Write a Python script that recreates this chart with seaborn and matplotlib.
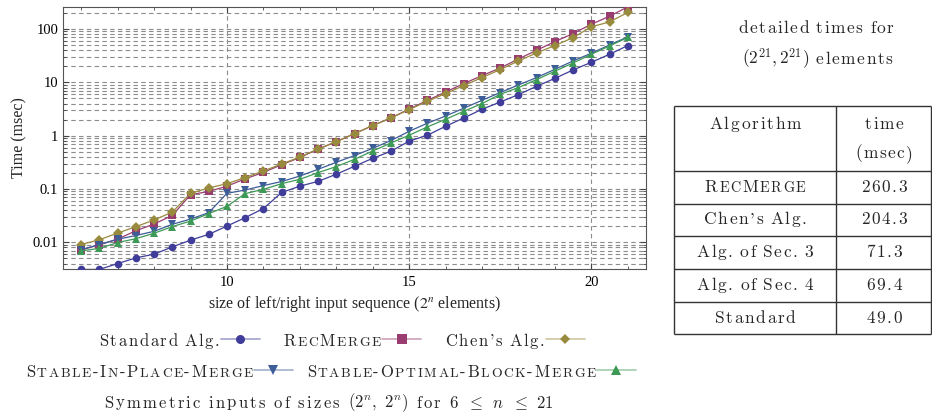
import re
import numpy as np
import pandas as pd
import seaborn as sns
import matplotlib
matplotlib.use("Agg")
import matplotlib.pyplot as plt
from matplotlib.lines import Line2D
from matplotlib.ticker import LogLocator, MultipleLocator, NullFormatter, FuncFormatter
from matplotlib.offsetbox import TextArea, DrawingArea, HPacker, AnchoredOffsetbox

# exponent n, inputs of size (2^n, 2^n)
n_exp = np.arange(6, 21.5, 0.5)

# times in msec
standard = [0.0031, 0.0031, 0.0040, 0.0051, 0.0060, 0.0082, 0.0110, 0.0141, 0.0202, 0.029,
            0.043, 0.086, 0.113, 0.139, 0.189, 0.267, 0.377, 0.51, 0.79, 1.02,
            1.50, 2.15, 3.13, 4.28, 5.9, 8.45, 11.9, 17.1, 23.8, 33.6, 49.0]
rec_merge = [0.0072, 0.0090, 0.0115, 0.0165, 0.022, 0.032, 0.078, 0.090, 0.113, 0.155,
             0.205, 0.285, 0.39, 0.56, 0.77, 1.09, 1.55, 2.15, 3.15, 4.6,
             6.6, 9.5, 13.4, 18.6, 27.5, 40.0, 58.2, 82.4, 123.0, 174.0, 260.3]
chen = [0.0091, 0.0112, 0.0149, 0.0197, 0.0262, 0.037, 0.083, 0.1045, 0.126, 0.164,
        0.218, 0.294, 0.398, 0.562, 0.774, 1.09, 1.55, 2.15, 3.09, 4.42,
        6.17, 8.7, 12.3, 17.4, 25.2, 35.7, 49.0, 69.2, 110.0, 136.0, 204.3]
sipm = [0.0073, 0.0091, 0.0114, 0.0134, 0.0161, 0.0218, 0.0273, 0.036, 0.083, 0.0957,
        0.116, 0.138, 0.175, 0.234, 0.317, 0.424, 0.58, 0.81, 1.21, 1.71,
        2.34, 3.27, 4.61, 6.44, 8.94, 12.3, 17.6, 25.2, 35.2, 50.4, 71.3]
sobm = [0.0069, 0.0077, 0.0099, 0.0117, 0.0148, 0.0197, 0.0251, 0.0345, 0.0473, 0.082,
        0.0986, 0.126, 0.152, 0.203, 0.263, 0.36, 0.516, 0.73, 1.02, 1.46,
        2.03, 2.87, 4.0, 5.98, 7.98, 11.3, 16.2, 23.1, 33.6, 48.2, 69.4]

series_names = ["Standard Alg.", "RecMerge", "Chen's Alg.",
                "Stable-In-Place-Merge", "Stable-Optimal-Block-Merge"]
series_colors = ["#3f3d99", "#993d71", "#998b3d", "#3d5d99", "#3d9956"]
series_markers = ["o", "s", "D", "v", "^"]
series_caps = [False, True, False, True, True]

table_algs = ["RecMerge", "Chen's Alg.", "Alg. of Sec. 3", "Alg. of Sec. 4", "Standard"]
table_times = [260.3, 204.3, 71.3, 69.4, 49.0]
table_caps = [True, False, False, False, False]

W, H = 932, 416
CM = ["cmr10", "DejaVu Serif"]

sns.set_style("ticks")
plt.rcParams["font.family"] = ["Liberation Serif", "DejaVu Serif"]
plt.rcParams["mathtext.fontset"] = "cm"


def cm_line(text, size, caps=False, track=0.9, word=0.42):
    '''letter spaced computer modern text, lowercase -> small caps if caps'''
    words = []
    for tok in re.findall(r"\$[^$]*\$|[^\s$]+", text):
        if tok.startswith("$"):
            words.append(TextArea(tok, textprops=dict(fontsize=size, math_fontfamily="cm")))
            continue
        chars = []
        for ch in tok:
            if caps and ch.islower():
                chars.append(TextArea(ch.upper(), textprops=dict(family=CM, fontsize=size * 0.82)))
            else:
                chars.append(TextArea(ch, textprops=dict(family=CM, fontsize=size)))
        words.append(HPacker(children=chars, align="baseline", pad=0, sep=track))
    return HPacker(children=words, align="baseline", pad=0, sep=size * word)


def legend_handle(color, marker):
    da = DrawingArea(28, 9, 0, 1)
    da.add_artist(Line2D([0, 28], [4.5, 4.5], color=color, alpha=0.45, lw=1.3))
    da.add_artist(Line2D([14], [4.5], marker=marker, color=color, ms=6.5 if marker != "D" else 5.5, mew=0))
    return da


def place(parent, box, x, y, transform):
    ab = AnchoredOffsetbox(loc="center", child=box, bbox_to_anchor=(x, y),
                           bbox_transform=transform, frameon=False, pad=0, borderpad=0)
    parent.add_artist(ab)


df = pd.DataFrame({"n": n_exp, series_names[0]: standard, series_names[1]: rec_merge,
                   series_names[2]: chen, series_names[3]: sipm, series_names[4]: sobm})
long_df = df.melt(id_vars="n", var_name="alg", value_name="time")

fig = plt.figure(figsize=(W / 100, H / 100), dpi=100)
ax = fig.add_axes([63 / W, 1 - 269 / H, 583 / W, 262 / H])

sns.lineplot(data=long_df, x="n", y="time", hue="alg", style="alg",
             hue_order=series_names, style_order=series_names,
             palette=dict(zip(series_names, series_colors)),
             markers=dict(zip(series_names, series_markers)), dashes=False,
             markersize=5.5, markeredgewidth=0, linewidth=0.9, legend=False, ax=ax, zorder=3)
for line in ax.lines:
    if line.get_marker() == "D":
        line.set_markersize(4.8)

ax.set_yscale("log")
ax.set_ylim(0.00316, 259)
ax.set_xlim(5.5, 21.5)
ax.yaxis.set_major_locator(LogLocator(base=10, numticks=12))
ax.yaxis.set_minor_locator(LogLocator(base=10, subs=np.arange(2, 10), numticks=12))
ax.yaxis.set_major_formatter(FuncFormatter(lambda v, p: f"{v:g}"))
ax.yaxis.set_minor_formatter(NullFormatter())
ax.set_xticks([10, 15, 20])
ax.xaxis.set_minor_locator(MultipleLocator(1))

ax.tick_params(which="both", direction="in", top=True, right=True, colors="#444444", labelcolor="black", labelsize=10.5)
ax.tick_params(which="major", length=4, width=0.8)
ax.tick_params(which="minor", length=2, width=0.6)
ax.tick_params(axis="x", pad=5)
for sp in ax.spines.values():
    sp.set_color("#555555")
    sp.set_linewidth(0.8)

grid_kw = dict(linestyle=(0, (4, 3)), color="#8c8c8c", linewidth=0.8)
ax.grid(True, axis="y", which="both", **grid_kw)
ax.grid(True, axis="x", which="major", **grid_kw)
ax.set_axisbelow(True)

ax.set_ylabel("Time (msec)", fontsize=11.5, labelpad=4)
ax.set_xlabel(r"size of left/right input sequence ($2^n$ elements)", fontsize=11.5, labelpad=4,
              math_fontfamily="stix")

# legend rows below the plot
entries = []
for name, col, mk, caps in zip(series_names, series_colors, series_markers, series_caps):
    entries.append(HPacker(children=[cm_line(name, 12, caps, track=1.2), legend_handle(col, mk)],
                           align="baseline", pad=0, sep=1))
row1 = HPacker(children=entries[:3], align="baseline", pad=0, sep=17)
row2 = HPacker(children=entries[3:], align="baseline", pad=0, sep=10)
caption = cm_line(r"Symmetric inputs of sizes $(2^n,\ 2^n)$ for $6$ $\leq$ $n$ $\leq$ $21$", 12,
                  track=1.6, word=0.5)
place(fig, row1, 342 / W, 1 - 341 / H, fig.transFigure)
place(fig, row2, 331 / W, 1 - 372 / H, fig.transFigure)
place(fig, caption, 329 / W, 1 - 403 / H, fig.transFigure)

# table on the right, drawn in pixel coordinates
tax = fig.add_axes([0, 0, 1, 1])
tax.set_xlim(0, W)
tax.set_ylim(H, 0)
tax.axis("off")

row_edges = [106, 171, 203.5, 236, 268.7, 301.7, 334.3]
tax.hlines(row_edges, 674, 931, color="#333333", lw=1)
tax.vlines([674, 836, 931], 106, 334.3, color="#333333", lw=1)

place(tax, cm_line("detailed times for", 12.5, track=1.1), 816, 28, tax.transData)
place(tax, cm_line(r"$(2^{21},2^{21})$ elements", 12.5, track=1.1), 817, 59, tax.transData)
place(tax, cm_line("Algorithm", 12.5, track=1.3), 755, 124, tax.transData)
place(tax, cm_line("time", 12.5, track=1.3), 884, 124, tax.transData)
place(tax, cm_line("(msec)", 12.5, track=1.1), 884, 154, tax.transData)
for i, (alg, t, caps) in enumerate(zip(table_algs, table_times, table_caps)):
    yc = (row_edges[i + 1] + row_edges[i + 2]) / 2
    place(tax, cm_line(alg, 12.5, caps, track=1.1), 755, yc, tax.transData)
    place(tax, cm_line(f"{t:.1f}", 12.5, track=1.1), 884, yc, tax.transData)

fig.savefig("out.png", dpi=100)
